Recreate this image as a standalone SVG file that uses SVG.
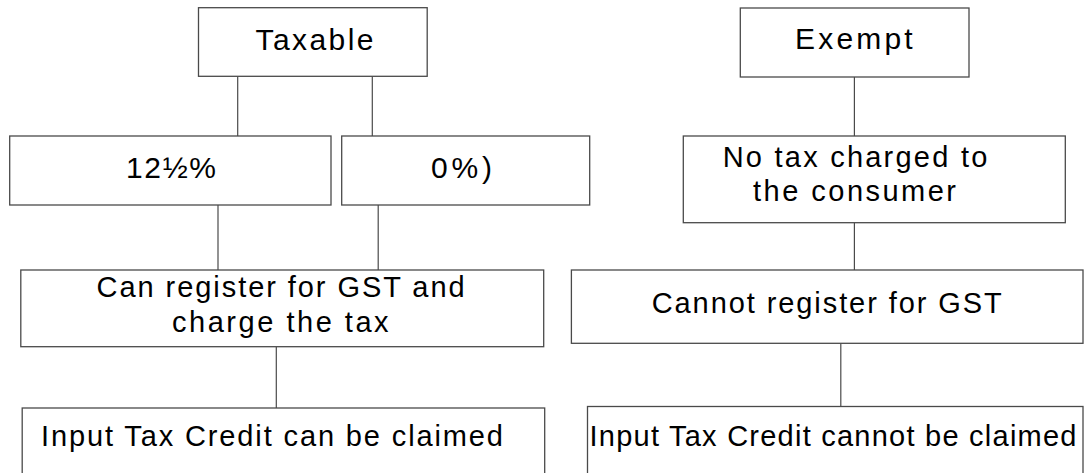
<svg xmlns="http://www.w3.org/2000/svg" width="1090" height="473" viewBox="0 0 1090 473">
<style>
.box{fill:#fff;stroke:#4a4a4a;stroke-width:1.3}
.t{font-family:"Liberation Sans",Arial,sans-serif;font-size:29px;fill:#000}
.h{font-size:30px}
.ln{stroke:#4a4a4a;stroke-width:1.2;fill:none}
</style>
<rect width="1090" height="473" fill="#fff"/>
<g id="connectors">
<line class="ln" x1="237.7" y1="76.3" x2="237.7" y2="136"/>
<line class="ln" x1="372.3" y1="76.3" x2="372.3" y2="136"/>
<line class="ln" x1="218" y1="205" x2="218" y2="270"/>
<line class="ln" x1="378.2" y1="205" x2="378.2" y2="270"/>
<line class="ln" x1="276.3" y1="346.7" x2="276.3" y2="408"/>
<line class="ln" x1="854.4" y1="77" x2="854.4" y2="136"/>
<line class="ln" x1="854.4" y1="222.7" x2="854.4" y2="270"/>
<line class="ln" x1="840.8" y1="343.3" x2="840.8" y2="406.5"/>
</g>
<g id="taxable">
<rect class="box" x="198.5" y="7.7" width="228.7" height="68.6"/>
<text class="t h" x="255.5" y="50" textLength="118" lengthAdjust="spacing">Taxable</text>
</g>
<g id="rate125">
<rect class="box" x="9.7" y="136" width="321.3" height="69"/>
<text class="t h" x="126" y="177.5" textLength="90" lengthAdjust="spacing">12½%</text>
</g>
<g id="rate0">
<rect class="box" x="341.7" y="136" width="248" height="69"/>
<text class="t h" x="431" y="178" textLength="61" lengthAdjust="spacing">0%)</text>
</g>
<g id="can-register">
<rect class="box" x="20.8" y="270" width="522.9" height="76.7"/>
<text class="t" x="96.6" y="297.3" textLength="368" lengthAdjust="spacing">Can register for GST and</text>
<text class="t" x="172" y="331.7" textLength="216.6" lengthAdjust="spacing">charge the tax</text>
</g>
<g id="itc-can">
<rect class="box" x="22.2" y="408" width="522.5" height="67"/>
<text class="t" x="41" y="445.7" textLength="462" lengthAdjust="spacing">Input Tax Credit can be claimed</text>
</g>
<g id="exempt">
<rect class="box" x="740.3" y="8" width="228.7" height="69"/>
<text class="t h" x="795" y="48.5" textLength="117.7" lengthAdjust="spacing">Exempt</text>
</g>
<g id="no-tax">
<rect class="box" x="683.3" y="136" width="382" height="86.7"/>
<text class="t" x="722.7" y="166.7" textLength="264.6" lengthAdjust="spacing">No tax charged to</text>
<text class="t" x="753" y="201" textLength="203" lengthAdjust="spacing">the consumer</text>
</g>
<g id="cannot-register">
<rect class="box" x="571.4" y="270" width="511.6" height="73.3"/>
<text class="t" x="651.7" y="313.3" textLength="350" lengthAdjust="spacing">Cannot register for GST</text>
</g>
<g id="itc-cannot">
<rect class="box" x="587.5" y="406.5" width="495.5" height="68.5"/>
<text class="t" x="589.5" y="445.7" textLength="487" lengthAdjust="spacing">Input Tax Credit cannot be claimed</text>
</g>
</svg>
